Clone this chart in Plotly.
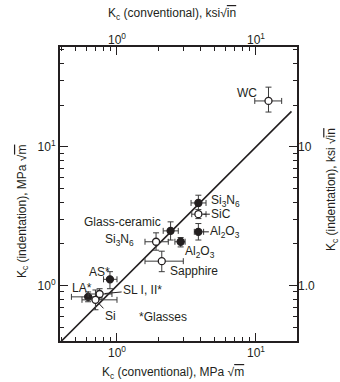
import math
import plotly.graph_objects as go

# ---- data (MPa*sqrt(m)) ----
materials = ["WC", "Si3N6 (a)", "SiC", "Al2O3 (a)", "Glass-ceramic", "Si3N6 (b)",
             "Al2O3 (b)", "Sapphire", "AS*", "LA*", "SL I, II*", "Si"]
filled = [False, True, False, True, True, False, True, False, True, True, False, False]
kc_conv = [12.3, 3.85, 3.85, 3.85, 2.43, 1.91, 2.87, 2.10, 0.89, 0.62, 0.75, 0.70]
kc_ind = [21.4, 3.94, 3.27, 2.44, 2.48, 2.07, 2.07, 1.50, 1.11, 0.83, 0.87, 0.79]
conv_lo = [9.8, 3.41, 3.45, 3.60, 2.15, 1.59, 2.61, 1.59, 0.80, 0.47, 0.62, 0.56]
conv_hi = [15.3, 4.37, 4.37, 4.20, 2.76, 2.34, 3.09, 3.00, 1.00, 0.78, 0.92, 1.00]
ind_lo = [17.8, 3.40, 3.04, 2.13, 2.13, 1.80, 1.90, 1.26, 0.95, 0.765, 0.80, 0.67]
ind_hi = [26.9, 4.48, 3.53, 2.80, 2.88, 2.40, 2.22, 1.77, 1.26, 0.90, 0.95, 0.93]
fit_line = [0.39, 18.0]

major_vals = [1, 10]
major_text = ["10<sup>0</sup>", "10<sup>1</sup>"]
right_text = ["1.0", "10"]
minor_vals = [0.4, 0.5, 0.6, 0.7, 0.8, 0.9, 2, 3, 4, 5, 6, 7, 8, 9, 20, 30, 40, 50]

x_range = [-0.410, 1.295]
y_range = [-0.399, 1.719]

FONT = "Liberation Sans, Arial, sans-serif"
INK = "#231f20"

fig = go.Figure()

fig.add_trace(go.Scatter(x=fit_line, y=fit_line, mode="lines",
                         line=dict(color=INK, width=1.6), showlegend=False,
                         hoverinfo="skip"))

for fill in (True, False):
    idx = [i for i, f in enumerate(filled) if f == fill]
    fig.add_trace(go.Scatter(
        x=[kc_conv[i] for i in idx], y=[kc_ind[i] for i in idx],
        mode="markers", showlegend=False,
        marker=dict(size=7, color=INK if fill else "white",
                    line=dict(color=INK, width=1.3)),
        error_x=dict(type="data", symmetric=False,
                     array=[conv_hi[i] - kc_conv[i] for i in idx],
                     arrayminus=[kc_conv[i] - conv_lo[i] for i in idx],
                     color="#3a3a3a", thickness=1, width=3),
        error_y=dict(type="data", symmetric=False,
                     array=[ind_hi[i] - kc_ind[i] for i in idx],
                     arrayminus=[kc_ind[i] - ind_lo[i] for i in idx],
                     color="#3a3a3a", thickness=1, width=3),
    ))

# empty trace to activate the top/right axes
fig.add_trace(go.Scatter(x=[], y=[], xaxis="x2", yaxis="y2", showlegend=False))

# point labels: (index, text, xshift, yshift, xanchor, arrow ax, arrow ay) in screen px
labels = [
    (0, "WC", -21, 8, "center", None, None),
    (1, "Si<sub>3</sub>N<sub>6</sub>", 11, 2, "left", None, None),
    (2, "SiC", None, None, "center", 23, 0),
    (3, "Al<sub>2</sub>O<sub>3</sub>", None, None, "center", 27, 0),
    (4, "Glass-ceramic", -8, 9, "right", None, None),
    (5, "Si<sub>3</sub>N<sub>6</sub>", -20, 2, "right", None, None),
    (6, "Al<sub>2</sub>O<sub>3</sub>", 2, -10, "left", None, None),
    (7, "Sapphire", 6, -10, "left", None, None),
    (8, "AS*", -10, 7, "center", None, None),
    (9, "LA*", -6, 9, "center", None, None),
    (10, "SL I, II*", None, None, "center", 43, -4),
    (11, "Si", None, None, "center", 15, 16),
]
annotations = []
for i, txt, xs, ys, xa, ax, ay in labels:
    a = dict(x=math.log10(kc_conv[i]), y=math.log10(kc_ind[i]), xref="x", yref="y",
             text=txt, yanchor="middle",
             font=dict(family=FONT, size=12, color=INK))
    if ax is None:
        a.update(showarrow=False, xshift=xs, yshift=ys, xanchor=xa)
    else:
        a.update(showarrow=True, arrowhead=0, arrowwidth=1, arrowcolor=INK,
                 ax=ax, ay=ay, axref="pixel", ayref="pixel", standoff=5)
    annotations.append(a)

annotations.append(dict(x=0.435, y=0.082, xref="paper", yref="paper", showarrow=False,
                        xanchor="center", yanchor="middle",
                        text="*Glasses", font=dict(family=FONT, size=12, color=INK)))

sqrt_m = "\u221a<span style='text-decoration:overline'>m</span>"
sqrt_in = "\u221a<span style='text-decoration:overline'>in</span>"
titles = [
    (0.473, 1.112, 0, "K<sub>c</sub> (conventional), ksi" + sqrt_in),
    (0.477, -0.109, 0, "K<sub>c</sub> (conventional), MPa " + sqrt_m),
    (-0.156, 0.442, -90, "K<sub>c</sub> (indentation), MPa " + sqrt_m),
    (1.148, 0.514, -90, "K<sub>c</sub> (indentation), ksi " + sqrt_in),
]
for tx, ty, ang, txt in titles:
    annotations.append(dict(x=tx, y=ty, xref="paper", yref="paper", showarrow=False,
                            xanchor="center", yanchor="middle",
                            textangle=ang, text=txt,
                            font=dict(family=FONT, size=12, color=INK)))

axis_common = dict(type="log", ticks="inside", ticklen=8, tickwidth=1.4, tickcolor=INK,
                   showgrid=False, zeroline=False, automargin=False,
                   tickfont=dict(family=FONT, size=12, color=INK),
                   minor=dict(tickvals=minor_vals, ticks="inside", ticklen=4,
                              tickwidth=1, tickcolor=INK, showgrid=False))

fig.update_layout(
    width=340, height=382,
    margin=dict(l=60, r=43, t=47, b=41),
    paper_bgcolor="white", plot_bgcolor="white",
    xaxis=dict(range=x_range, tickvals=major_vals, ticktext=major_text,
               showline=True, linewidth=2, linecolor=INK, mirror=True, **axis_common),
    yaxis=dict(range=y_range, tickvals=major_vals, ticktext=major_text,
               showline=True, linewidth=2, linecolor=INK, mirror=True, **axis_common),
    xaxis2=dict(range=x_range, overlaying="x", side="top", anchor="y",
                tickvals=major_vals, ticktext=major_text, **axis_common),
    yaxis2=dict(range=y_range, overlaying="y", side="right", anchor="x",
                tickvals=major_vals, ticktext=right_text, **axis_common),
    annotations=annotations,
    showlegend=False,
)

fig.write_html("out.html",
               config={"displayModeBar": False},
               post_script="document.body.style.margin='0';"
                           "document.body.style.overflow='hidden';")
